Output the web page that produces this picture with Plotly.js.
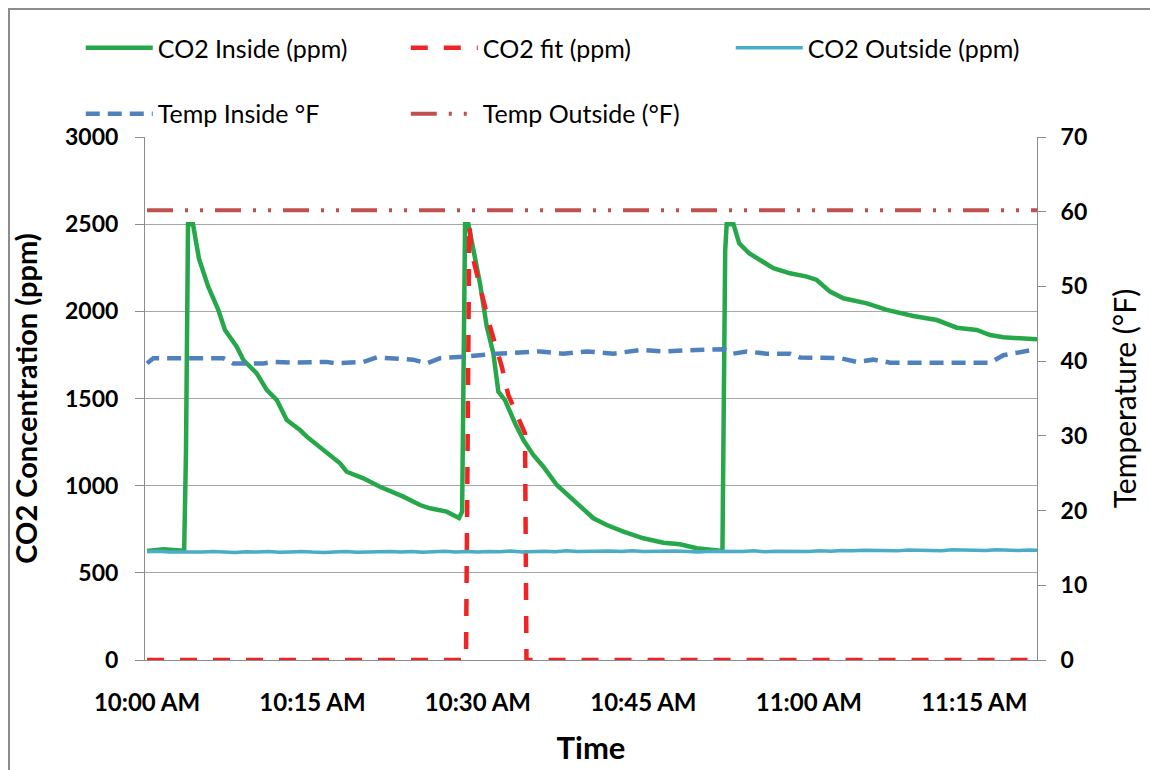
<!DOCTYPE html>
<html>
<head>
<meta charset="utf-8">
<script src="https://cdn.plot.ly/plotly-3.0.1.min.js"></script>
<style>
  html, body { margin: 0; padding: 0; background: #ffffff; }
  #wrap { position: relative; width: 1150px; height: 770px; overflow: hidden; }
  #chart { position: absolute; left: 0; top: 0; width: 1150px; height: 770px; }
  #frame { position: absolute; left: 8px; top: 8px; width: 1160px; height: 780px;
           border-left: 2px solid #8c8c8c; border-top: 2px solid #8c8c8c; pointer-events: none; }
</style>
</head>
<body>
<div id="wrap"><div id="chart"></div><div id="frame"></div></div>
<script>
// ---------- DATA ----------
const DAY = '2000-01-01 ';

// CO2 Inside (ppm)
const insideTimes = ['10:00:00','10:01:30','10:03:00','10:03:22','10:03:32','10:03:43','10:04:10','10:04:43',
  '10:05:33','10:06:28','10:07:04','10:08:08','10:08:44','10:09:57','10:10:51','10:11:46','10:12:40',
  '10:13:52','10:14:29','10:15:59','10:17:30','10:18:06','10:19:37','10:21:07','10:23:14','10:24:45',
  '10:25:39','10:27:10','10:28:17','10:28:34','10:28:50','10:29:08','10:29:35','10:30:11','10:30:48',
  '10:31:24','10:31:51','10:32:27','10:33:22','10:34:07','10:35:01','10:35:56','10:37:09','10:38:21',
  '10:39:15','10:40:28','10:41:41','10:43:11','10:45:00','10:46:49','10:48:19','10:49:50','10:51:57',
  '10:52:10','10:52:25','10:52:33','10:53:10','10:53:41','10:54:35','10:55:35','10:56:47','10:58:17',
  '10:59:49','11:00:43','11:01:55','11:03:08','11:05:15','11:07:04','11:09:28','11:11:36','11:13:25',
  '11:15:13','11:16:26','11:17:38','11:19:45','11:20:41'];
const insideCO2 = [625,635,628,628,1200,2500,2500,2300,
  2141,2008,1893,1797,1721,1644,1549,1491,1377,
  1319,1281,1205,1128,1080,1042,994,937,889,
  870,851,815,850,2500,2500,2352,2161,1912,
  1759,1539,1491,1358,1262,1176,1109,1004,937,
  889,813,774,736,698,673,664,641,627,
  630,2350,2500,2500,2390,2333,2294,2247,2218,
  2199,2180,2113,2075,2046,2008,1973,1950,1906,
  1893,1864,1851,1845,1840];

// CO2 fit (ppm)
const fitTimes = ['10:00:00','10:28:55','10:29:13','10:29:26','10:30:11','10:31:06','10:32:10','10:32:45',
  '10:34:16','10:34:24','11:20:41'];
const fitCO2 = [0,0,2500,2335,2141,1912,1682,1520,1300,0,0];

// CO2 Outside (ppm), one reading per minute
const outsideTimes = ['10:00','10:01','10:02','10:03','10:04','10:05','10:06','10:07','10:08','10:09',
  '10:10','10:11','10:12','10:13','10:14','10:15','10:16','10:17','10:18','10:19',
  '10:20','10:21','10:22','10:23','10:24','10:25','10:26','10:27','10:28','10:29',
  '10:30','10:31','10:32','10:33','10:34','10:35','10:36','10:37','10:38','10:39',
  '10:40','10:41','10:42','10:43','10:44','10:45','10:46','10:47','10:48','10:49',
  '10:50','10:51','10:52','10:53','10:54','10:55','10:56','10:57','10:58','10:59',
  '11:00','11:01','11:02','11:03','11:04','11:05','11:06','11:07','11:08','11:09',
  '11:10','11:11','11:12','11:13','11:14','11:15','11:16','11:17','11:18','11:19',
  '11:20','11:20:41'];
const outsideCO2 = [622,624,620,618,621,619,623,620,617,621,
  619,622,618,620,623,619,617,620,622,618,
  621,619,623,620,622,618,621,624,620,622,
  619,623,621,625,620,622,624,621,626,622,
  624,621,625,623,627,622,624,621,625,623,
  620,624,622,620,623,626,621,624,622,625,
  623,627,624,628,626,630,627,629,626,631,
  628,630,627,632,629,631,628,633,630,628,
  631,629];

// Temp Inside (°F)
const tempInTimes = ['10:00:00','10:00:34','10:06:55','10:07:49','10:10:33','10:11:27','10:13:34','10:16:17',
  '10:17:12','10:19:37','10:20:50','10:22:20','10:24:08','10:25:21','10:26:34','10:28:41','10:31:42',
  '10:35:38','10:37:43','10:39:52','10:42:17','10:44:42','10:46:49','10:49:50','10:52:15','10:53:09',
  '10:54:22','10:56:11','10:58:18','10:59:12','11:01:19','11:02:50','11:04:20','11:05:51','11:07:22',
  '11:11:54','11:16:26','11:17:38','11:18:51','11:20:41'];
const tempIn = [39.7,40.4,40.4,39.7,39.7,39.9,39.8,39.9,
  39.7,39.9,40.5,40.4,40.2,39.7,40.4,40.6,41.0,
  41.3,41.0,41.3,41.0,41.5,41.3,41.5,41.6,41.0,
  41.3,41.0,41.0,40.5,40.5,40.4,39.9,40.2,39.8,
  39.8,39.8,40.8,41.1,41.6];

// Temp Outside (°F)
const tempOutTimes = ['10:00:00','10:30:00','11:00:00','11:20:41'];
const tempOut = [60.2,60.2,60.2,60.2];

// Axis ticks
const xTickTimes = ['10:00','10:15','10:30','10:45','11:00','11:15'];
const xTickLabels = ['10:00 AM','10:15 AM','10:30 AM','10:45 AM','11:00 AM','11:15 AM'];

// ---------- CHART ----------
const toX = arr => arr.map(t => DAY + t);
const FONT = 'Lato, "Open Sans", sans-serif';
const GRID = '#a6a6a6';
const AXIS = '#8c8c8c';

const traces = [
  { name: 'CO2 Inside (ppm)', x: toX(insideTimes), y: insideCO2, mode: 'lines', yaxis: 'y',
    line: { color: '#26a84a', width: 4.5 }, legend: 'legend' },
  { name: 'CO2 fit (ppm)', x: toX(fitTimes), y: fitCO2, mode: 'lines', yaxis: 'y',
    line: { color: '#f02424', width: 4.5, dash: '17px,16px' }, legend: 'legend' },
  { name: 'CO2 Outside (ppm)', x: toX(outsideTimes), y: outsideCO2, mode: 'lines', yaxis: 'y',
    line: { color: '#4bacc6', width: 3.5 }, legend: 'legend' },
  { name: 'Temp Inside °F', x: toX(tempInTimes), y: tempIn, mode: 'lines', yaxis: 'y2',
    line: { color: '#4f81bd', width: 4.5, dash: '14px,8px' }, legend: 'legend2' },
  { name: 'Temp Outside (°F)', x: toX(tempOutTimes), y: tempOut, mode: 'lines', yaxis: 'y2',
    line: { color: '#c0504d', width: 4, dash: '26px,12px,3px,12px,3px,12px' }, legend: 'legend2' }
];

const layout = {
  width: 1150, height: 770,
  margin: { l: 145, r: 113, t: 137, b: 110 },
  paper_bgcolor: '#ffffff', plot_bgcolor: '#ffffff',
  font: { family: FONT, color: '#000000' },
  showlegend: true,
  xaxis: {
    type: 'date',
    range: [DAY + '09:59:49', DAY + '11:20:41'],
    tickvals: toX(xTickTimes), ticktext: xTickLabels,
    tickfont: { size: 24, family: FONT, weight: 'bold' },
    ticks: '', ticklabelstandoff: 21,
    showgrid: false, zeroline: false,
    showline: true, linecolor: AXIS, linewidth: 1,
    title: { text: 'Time', font: { size: 31, family: FONT, weight: 'bold' }, standoff: 22 }
  },
  yaxis: {
    range: [0, 3000], dtick: 500, tick0: 0,
    tickfont: { size: 23, family: FONT, weight: 'bold' },
    ticks: 'outside', ticklen: 9, tickcolor: AXIS, ticklabelstandoff: 12,
    showgrid: true, gridcolor: GRID, gridwidth: 1, zeroline: false,
    showline: true, linecolor: AXIS, linewidth: 1,
    title: { text: 'CO2 Concentration (ppm)', font: { size: 29, family: FONT, weight: 'bold' }, standoff: 18 }
  },
  yaxis2: {
    overlaying: 'y', side: 'right',
    range: [0, 70], dtick: 10, tick0: 0,
    tickfont: { size: 23, family: FONT, weight: 'bold' },
    ticks: 'outside', ticklen: 8, tickcolor: AXIS, ticklabelstandoff: 10,
    showgrid: false, zeroline: false,
    showline: true, linecolor: AXIS, linewidth: 1,
    title: { text: 'Temperature (°F)', font: { size: 30, family: FONT }, standoff: 28 }
  },
  legend: {
    orientation: 'h', x: -0.072, xanchor: 'left', y: 1.17, yanchor: 'middle',
    font: { size: 25, family: FONT }, itemwidth: 67, entrywidth: 243,
    bgcolor: 'rgba(0,0,0,0)', borderwidth: 0
  },
  legend2: {
    orientation: 'h', x: -0.072, xanchor: 'left', y: 1.044, yanchor: 'middle',
    font: { size: 25, family: FONT }, itemwidth: 67, entrywidth: 243,
    bgcolor: 'rgba(0,0,0,0)', borderwidth: 0
  }
};

Plotly.newPlot('chart', traces, layout, { displayModeBar: false, staticPlot: true });
</script>
</body>
</html>
